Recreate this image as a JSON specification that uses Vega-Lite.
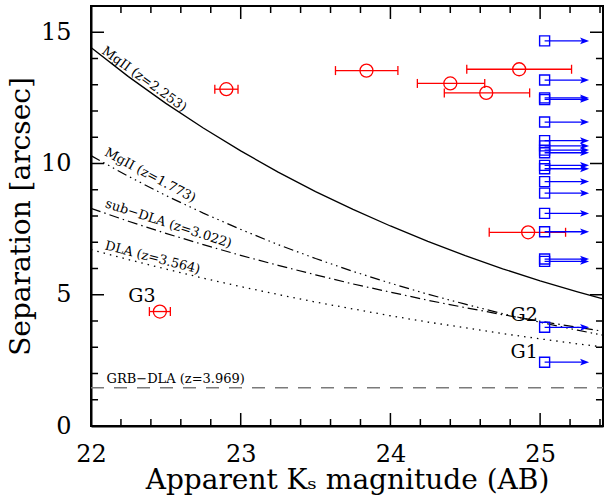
{
  "$schema": "https://vega.github.io/schema/vega-lite/v6.json",
  "width": 512,
  "height": 420,
  "autosize": {"type": "none"},
  "padding": {"left": 91, "top": 6, "right": 11, "bottom": 70},
  "background": "white",
  "config": {
    "font": "DejaVu Serif",
    "view": {"stroke": "black", "strokeWidth": 2},
    "axis": {
      "domainColor": "black",
      "domainWidth": 2,
      "labelColor": "black",
      "labelFont": "DejaVu Serif",
      "labelFontSize": 24,
      "titleColor": "black",
      "titleFont": "DejaVu Serif",
      "titleFontSize": 28,
      "titleFontWeight": "normal",
      "labelFlush": false,
      "labelOverlap": false
    }
  },
  "datasets": {
    "curves": [
      {"m": 22.0, "sep": 14.42, "curve": "MgII 2.253"},
      {"m": 22.25, "sep": 13.31, "curve": "MgII 2.253"},
      {"m": 22.5, "sep": 12.29, "curve": "MgII 2.253"},
      {"m": 22.75, "sep": 11.35, "curve": "MgII 2.253"},
      {"m": 23.0, "sep": 10.48, "curve": "MgII 2.253"},
      {"m": 23.25, "sep": 9.67, "curve": "MgII 2.253"},
      {"m": 23.5, "sep": 8.93, "curve": "MgII 2.253"},
      {"m": 23.75, "sep": 8.25, "curve": "MgII 2.253"},
      {"m": 24.0, "sep": 7.62, "curve": "MgII 2.253"},
      {"m": 24.25, "sep": 7.03, "curve": "MgII 2.253"},
      {"m": 24.5, "sep": 6.49, "curve": "MgII 2.253"},
      {"m": 24.75, "sep": 5.99, "curve": "MgII 2.253"},
      {"m": 25.0, "sep": 5.53, "curve": "MgII 2.253"},
      {"m": 25.25, "sep": 5.11, "curve": "MgII 2.253"},
      {"m": 25.42, "sep": 4.84, "curve": "MgII 2.253"},
      {"m": 22.0, "sep": 10.3, "curve": "MgII 1.773"},
      {"m": 22.25, "sep": 9.51, "curve": "MgII 1.773"},
      {"m": 22.5, "sep": 8.78, "curve": "MgII 1.773"},
      {"m": 22.75, "sep": 8.11, "curve": "MgII 1.773"},
      {"m": 23.0, "sep": 7.49, "curve": "MgII 1.773"},
      {"m": 23.25, "sep": 6.91, "curve": "MgII 1.773"},
      {"m": 23.5, "sep": 6.38, "curve": "MgII 1.773"},
      {"m": 23.75, "sep": 5.89, "curve": "MgII 1.773"},
      {"m": 24.0, "sep": 5.44, "curve": "MgII 1.773"},
      {"m": 24.25, "sep": 5.02, "curve": "MgII 1.773"},
      {"m": 24.5, "sep": 4.64, "curve": "MgII 1.773"},
      {"m": 24.75, "sep": 4.28, "curve": "MgII 1.773"},
      {"m": 25.0, "sep": 3.95, "curve": "MgII 1.773"},
      {"m": 25.25, "sep": 3.65, "curve": "MgII 1.773"},
      {"m": 25.42, "sep": 3.46, "curve": "MgII 1.773"},
      {"m": 22.0, "sep": 8.29, "curve": "sub-DLA"},
      {"m": 22.25, "sep": 7.8, "curve": "sub-DLA"},
      {"m": 22.5, "sep": 7.34, "curve": "sub-DLA"},
      {"m": 22.75, "sep": 6.91, "curve": "sub-DLA"},
      {"m": 23.0, "sep": 6.5, "curve": "sub-DLA"},
      {"m": 23.25, "sep": 6.12, "curve": "sub-DLA"},
      {"m": 23.5, "sep": 5.76, "curve": "sub-DLA"},
      {"m": 23.75, "sep": 5.41, "curve": "sub-DLA"},
      {"m": 24.0, "sep": 5.1, "curve": "sub-DLA"},
      {"m": 24.25, "sep": 4.79, "curve": "sub-DLA"},
      {"m": 24.5, "sep": 4.51, "curve": "sub-DLA"},
      {"m": 24.75, "sep": 4.24, "curve": "sub-DLA"},
      {"m": 25.0, "sep": 3.99, "curve": "sub-DLA"},
      {"m": 25.25, "sep": 3.76, "curve": "sub-DLA"},
      {"m": 25.42, "sep": 3.61, "curve": "sub-DLA"},
      {"m": 22.0, "sep": 6.72, "curve": "DLA"},
      {"m": 22.25, "sep": 6.34, "curve": "DLA"},
      {"m": 22.5, "sep": 5.98, "curve": "DLA"},
      {"m": 22.75, "sep": 5.63, "curve": "DLA"},
      {"m": 23.0, "sep": 5.31, "curve": "DLA"},
      {"m": 23.25, "sep": 5.01, "curve": "DLA"},
      {"m": 23.5, "sep": 4.72, "curve": "DLA"},
      {"m": 23.75, "sep": 4.46, "curve": "DLA"},
      {"m": 24.0, "sep": 4.2, "curve": "DLA"},
      {"m": 24.25, "sep": 3.96, "curve": "DLA"},
      {"m": 24.5, "sep": 3.74, "curve": "DLA"},
      {"m": 24.75, "sep": 3.52, "curve": "DLA"},
      {"m": 25.0, "sep": 3.32, "curve": "DLA"},
      {"m": 25.25, "sep": 3.13, "curve": "DLA"},
      {"m": 25.42, "sep": 3.01, "curve": "DLA"},
      {"m": 22.0, "sep": 1.46, "curve": "GRB-DLA"},
      {"m": 25.42, "sep": 1.46, "curve": "GRB-DLA"}
    ],
    "detections": [
      {"m": 22.904, "lo": 22.827, "hi": 22.982, "sep": 12.83},
      {"m": 23.84, "lo": 23.633, "hi": 24.05, "sep": 13.54},
      {"m": 24.86, "lo": 24.51, "hi": 25.21, "sep": 13.59},
      {"m": 24.4, "lo": 24.18, "hi": 24.63, "sep": 13.05},
      {"m": 24.64, "lo": 24.36, "hi": 24.93, "sep": 12.69},
      {"m": 24.92, "lo": 24.66, "hi": 25.17, "sep": 7.38},
      {"m": 22.46, "lo": 22.39, "hi": 22.53, "sep": 4.36}
    ],
    "limits": [
      {"m": 25.03, "sep": 14.67},
      {"m": 25.03, "sep": 13.18},
      {"m": 25.03, "sep": 12.5},
      {"m": 25.03, "sep": 12.44},
      {"m": 25.03, "sep": 11.58},
      {"m": 25.03, "sep": 10.87},
      {"m": 25.03, "sep": 10.67},
      {"m": 25.03, "sep": 10.51},
      {"m": 25.03, "sep": 10.41},
      {"m": 25.03, "sep": 9.93},
      {"m": 25.03, "sep": 9.8},
      {"m": 25.03, "sep": 9.31},
      {"m": 25.03, "sep": 8.87},
      {"m": 25.03, "sep": 8.1},
      {"m": 25.03, "sep": 7.4},
      {"m": 25.03, "sep": 6.36},
      {"m": 25.03, "sep": 6.27},
      {"m": 25.03, "sep": 3.76},
      {"m": 25.03, "sep": 2.43}
    ],
    "xticks": [
      {"v": 22, "major": true}, {"v": 22.2, "major": false}, {"v": 22.4, "major": false}, {"v": 22.6, "major": false}, {"v": 22.8, "major": false},
      {"v": 23, "major": true}, {"v": 23.2, "major": false}, {"v": 23.4, "major": false}, {"v": 23.6, "major": false}, {"v": 23.8, "major": false},
      {"v": 24, "major": true}, {"v": 24.2, "major": false}, {"v": 24.4, "major": false}, {"v": 24.6, "major": false}, {"v": 24.8, "major": false},
      {"v": 25, "major": true}, {"v": 25.2, "major": false}, {"v": 25.4, "major": false}
    ],
    "yticks": [
      {"v": 0, "major": true}, {"v": 1, "major": false}, {"v": 2, "major": false}, {"v": 3, "major": false}, {"v": 4, "major": false},
      {"v": 5, "major": true}, {"v": 6, "major": false}, {"v": 7, "major": false}, {"v": 8, "major": false}, {"v": 9, "major": false},
      {"v": 10, "major": true}, {"v": 11, "major": false}, {"v": 12, "major": false}, {"v": 13, "major": false}, {"v": 14, "major": false},
      {"v": 15, "major": true}
    ]
  },
  "layer": [
    {
      "data": {"name": "curves"},
      "transform": [{"filter": "datum.curve === 'MgII 2.253'"}],
      "mark": {"type": "line", "color": "black", "strokeWidth": 1.3},
      "encoding": {
        "x": {
          "field": "m", "type": "quantitative",
          "scale": {"domain": [22, 25.42], "nice": false, "zero": false},
          "axis": {
            "orient": "bottom",
            "title": "Apparent Kₛ magnitude (AB)",
            "values": [22, 23, 24, 25],
            "format": "d",
            "grid": false,
            "ticks": false,
            "tickSize": 0,
            "labelPadding": 16,
            "titlePadding": 0
          }
        },
        "y": {
          "field": "sep", "type": "quantitative",
          "scale": {"domain": [0, 16], "nice": false},
          "axis": {
            "orient": "left",
            "title": "Separation [arcsec]",
            "values": [0, 5, 10, 15],
            "format": "d",
            "grid": false,
            "ticks": false,
            "tickSize": 0,
            "labelPadding": 20,
            "titlePadding": 5
          }
        }
      }
    },
    {
      "data": {"name": "curves"},
      "transform": [{"filter": "datum.curve === 'MgII 1.773'"}],
      "mark": {"type": "line", "color": "black", "strokeWidth": 1.2, "strokeDash": [10, 4, 1.5, 4, 1.5, 4, 1.5, 4]},
      "encoding": {
        "x": {"field": "m", "type": "quantitative"},
        "y": {"field": "sep", "type": "quantitative"}
      }
    },
    {
      "data": {"name": "curves"},
      "transform": [{"filter": "datum.curve === 'sub-DLA'"}],
      "mark": {"type": "line", "color": "black", "strokeWidth": 1.2, "strokeDash": [10, 4, 1.5, 4]},
      "encoding": {
        "x": {"field": "m", "type": "quantitative"},
        "y": {"field": "sep", "type": "quantitative"}
      }
    },
    {
      "data": {"name": "curves"},
      "transform": [{"filter": "datum.curve === 'DLA'"}],
      "mark": {"type": "line", "color": "black", "strokeWidth": 1.3, "strokeDash": [1.5, 5]},
      "encoding": {
        "x": {"field": "m", "type": "quantitative"},
        "y": {"field": "sep", "type": "quantitative"}
      }
    },
    {
      "data": {"name": "curves"},
      "transform": [{"filter": "datum.curve === 'GRB-DLA'"}],
      "mark": {"type": "line", "color": "#7a7a7a", "strokeWidth": 1.6, "strokeDash": [13, 10]},
      "encoding": {
        "x": {"field": "m", "type": "quantitative"},
        "y": {"field": "sep", "type": "quantitative"}
      }
    },
    {
      "data": {"name": "xticks"},
      "transform": [{"filter": "datum.major === true"}],
      "mark": {"type": "rule", "color": "black", "strokeWidth": 1.5},
      "encoding": {
        "x": {"field": "v", "type": "quantitative"},
        "y": {"datum": 0, "type": "quantitative"},
        "y2": {"datum": 0.495}
      }
    },
    {
      "data": {"name": "xticks"},
      "transform": [{"filter": "datum.major === true"}],
      "mark": {"type": "rule", "color": "black", "strokeWidth": 1.5},
      "encoding": {
        "x": {"field": "v", "type": "quantitative"},
        "y": {"datum": 16, "type": "quantitative"},
        "y2": {"datum": 15.505}
      }
    },
    {
      "data": {"name": "xticks"},
      "transform": [{"filter": "datum.major === false"}],
      "mark": {"type": "rule", "color": "black", "strokeWidth": 1.5},
      "encoding": {
        "x": {"field": "v", "type": "quantitative"},
        "y": {"datum": 0, "type": "quantitative"},
        "y2": {"datum": 0.267}
      }
    },
    {
      "data": {"name": "xticks"},
      "transform": [{"filter": "datum.major === false"}],
      "mark": {"type": "rule", "color": "black", "strokeWidth": 1.5},
      "encoding": {
        "x": {"field": "v", "type": "quantitative"},
        "y": {"datum": 16, "type": "quantitative"},
        "y2": {"datum": 15.733}
      }
    },
    {
      "data": {"name": "yticks"},
      "transform": [{"filter": "datum.major === true"}],
      "mark": {"type": "rule", "color": "black", "strokeWidth": 1.5},
      "encoding": {
        "y": {"field": "v", "type": "quantitative"},
        "x": {"datum": 22, "type": "quantitative"},
        "x2": {"datum": 22.087}
      }
    },
    {
      "data": {"name": "yticks"},
      "transform": [{"filter": "datum.major === true"}],
      "mark": {"type": "rule", "color": "black", "strokeWidth": 1.5},
      "encoding": {
        "y": {"field": "v", "type": "quantitative"},
        "x": {"datum": 25.42, "type": "quantitative"},
        "x2": {"datum": 25.333}
      }
    },
    {
      "data": {"name": "yticks"},
      "transform": [{"filter": "datum.major === false"}],
      "mark": {"type": "rule", "color": "black", "strokeWidth": 1.5},
      "encoding": {
        "y": {"field": "v", "type": "quantitative"},
        "x": {"datum": 22, "type": "quantitative"},
        "x2": {"datum": 22.047}
      }
    },
    {
      "data": {"name": "yticks"},
      "transform": [{"filter": "datum.major === false"}],
      "mark": {"type": "rule", "color": "black", "strokeWidth": 1.5},
      "encoding": {
        "y": {"field": "v", "type": "quantitative"},
        "x": {"datum": 25.42, "type": "quantitative"},
        "x2": {"datum": 25.373}
      }
    },
    {
      "data": {"name": "detections"},
      "mark": {"type": "rule", "color": "red", "strokeWidth": 1.3},
      "encoding": {
        "x": {"field": "lo", "type": "quantitative"},
        "x2": {"field": "hi"},
        "y": {"field": "sep", "type": "quantitative"}
      }
    },
    {
      "data": {"name": "detections"},
      "mark": {"type": "point", "shape": "M0,-1L0,1", "filled": false, "color": "red", "strokeWidth": 1.3, "size": 81, "opacity": 1},
      "encoding": {
        "x": {"field": "lo", "type": "quantitative"},
        "y": {"field": "sep", "type": "quantitative"}
      }
    },
    {
      "data": {"name": "detections"},
      "mark": {"type": "point", "shape": "M0,-1L0,1", "filled": false, "color": "red", "strokeWidth": 1.3, "size": 81, "opacity": 1},
      "encoding": {
        "x": {"field": "hi", "type": "quantitative"},
        "y": {"field": "sep", "type": "quantitative"}
      }
    },
    {
      "data": {"name": "detections"},
      "mark": {"type": "point", "shape": "circle", "filled": false, "color": "red", "strokeWidth": 1.3, "size": 169, "opacity": 1},
      "encoding": {
        "x": {"field": "m", "type": "quantitative"},
        "y": {"field": "sep", "type": "quantitative"}
      }
    },
    {
      "data": {"name": "limits"},
      "mark": {"type": "rule", "color": "blue", "strokeWidth": 1.3},
      "encoding": {
        "x": {"field": "m", "type": "quantitative"},
        "x2": {"datum": 25.3},
        "y": {"field": "sep", "type": "quantitative"}
      }
    },
    {
      "data": {"name": "limits"},
      "mark": {"type": "point", "shape": "M1,0L-1,-0.75L-0.55,0L-1,0.75Z", "filled": true, "color": "blue", "size": 81, "opacity": 1},
      "encoding": {
        "x": {"datum": 25.297, "type": "quantitative"},
        "y": {"field": "sep", "type": "quantitative"}
      }
    },
    {
      "data": {"name": "limits"},
      "mark": {"type": "point", "shape": "square", "filled": false, "color": "blue", "strokeWidth": 1.4, "size": 100, "opacity": 1},
      "encoding": {
        "x": {"field": "m", "type": "quantitative"},
        "y": {"field": "sep", "type": "quantitative"}
      }
    },
    {
      "data": {"values": [{"m": 22.067, "sep": 14.22, "label": "MgII (z=2.253)"}]},
      "mark": {"type": "text", "angle": 36, "align": "left", "baseline": "alphabetic", "fontSize": 13, "font": "DejaVu Serif", "color": "black"},
      "encoding": {
        "x": {"field": "m", "type": "quantitative"},
        "y": {"field": "sep", "type": "quantitative"},
        "text": {"field": "label"}
      }
    },
    {
      "data": {"values": [{"m": 22.085, "sep": 10.32, "label": "MgII (z=1.773)"}]},
      "mark": {"type": "text", "angle": 28, "align": "left", "baseline": "alphabetic", "fontSize": 13, "font": "DejaVu Serif", "color": "black"},
      "encoding": {
        "x": {"field": "m", "type": "quantitative"},
        "y": {"field": "sep", "type": "quantitative"},
        "text": {"field": "label"}
      }
    },
    {
      "data": {"values": [{"m": 22.091, "sep": 8.34, "label": "sub−DLA (z=3.022)"}]},
      "mark": {"type": "text", "angle": 18, "align": "left", "baseline": "alphabetic", "fontSize": 13, "font": "DejaVu Serif", "color": "black"},
      "encoding": {
        "x": {"field": "m", "type": "quantitative"},
        "y": {"field": "sep", "type": "quantitative"},
        "text": {"field": "label"}
      }
    },
    {
      "data": {"values": [{"m": 22.089, "sep": 6.735, "label": "DLA (z=3.564)"}]},
      "mark": {"type": "text", "angle": 14.5, "align": "left", "baseline": "alphabetic", "fontSize": 13, "font": "DejaVu Serif", "color": "black"},
      "encoding": {
        "x": {"field": "m", "type": "quantitative"},
        "y": {"field": "sep", "type": "quantitative"},
        "text": {"field": "label"}
      }
    },
    {
      "data": {"values": [{"m": 22.104, "sep": 1.63, "label": "GRB−DLA (z=3.969)"}]},
      "mark": {"type": "text", "align": "left", "baseline": "alphabetic", "fontSize": 13, "font": "DejaVu Serif", "color": "black"},
      "encoding": {
        "x": {"field": "m", "type": "quantitative"},
        "y": {"field": "sep", "type": "quantitative"},
        "text": {"field": "label"}
      }
    },
    {
      "data": {"values": [
        {"m": 22.34, "sep": 4.95, "label": "G3"},
        {"m": 24.893, "sep": 4.23, "label": "G2"},
        {"m": 24.893, "sep": 2.82, "label": "G1"}
      ]},
      "mark": {"type": "text", "align": "center", "baseline": "middle", "fontSize": 19, "font": "DejaVu Serif", "color": "black"},
      "encoding": {
        "x": {"field": "m", "type": "quantitative"},
        "y": {"field": "sep", "type": "quantitative"},
        "text": {"field": "label"}
      }
    }
  ]
}
